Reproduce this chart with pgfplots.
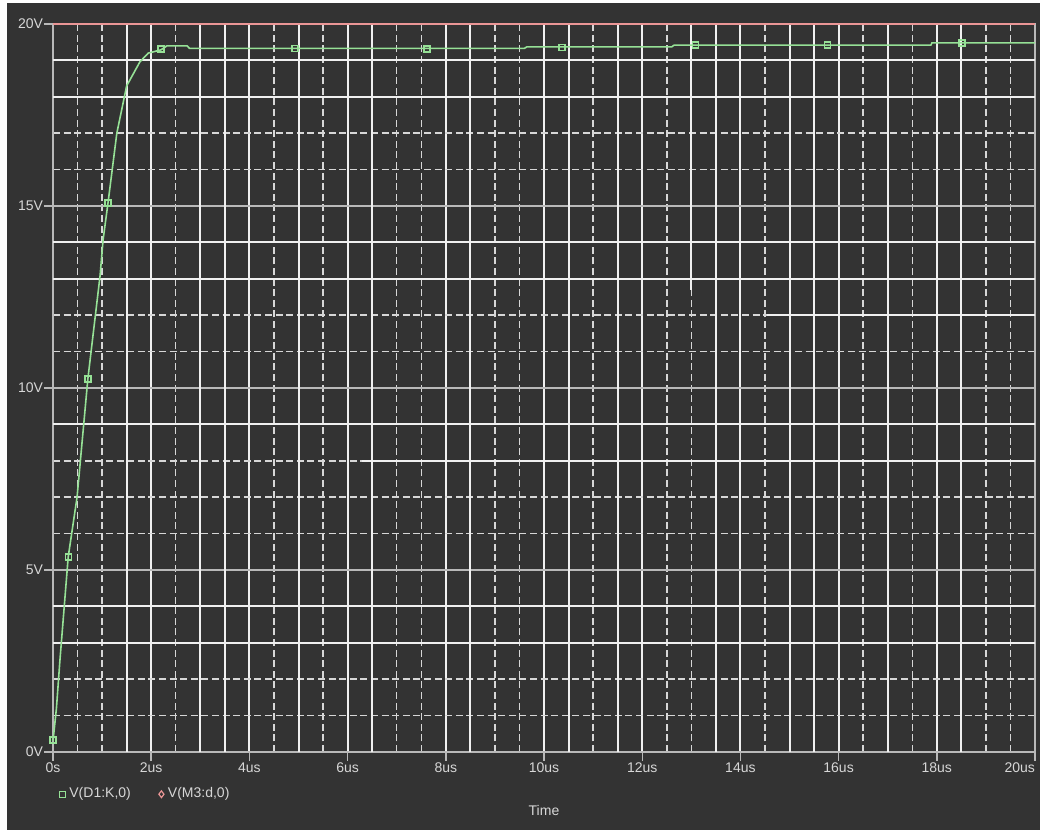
\documentclass[border=0pt]{standalone}
\usepackage{pgfplots}
\pgfplotsset{compat=1.18}
\usepackage{fontspec}
\setmainfont{Liberation Sans}
\definecolor{bg}{RGB}{51,51,51}
\definecolor{txt}{RGB}{215,215,215}
\definecolor{gsolid}{RGB}{240,240,240}
\definecolor{gdash}{RGB}{215,215,215}
\definecolor{gmajor}{RGB}{185,185,185}
\definecolor{trace}{RGB}{150,225,150}
\definecolor{pinkline}{RGB}{235,150,150}
\begin{document}
\begin{tikzpicture}
\fill[white] (0,0) rectangle (520pt,415pt);
\fill[bg] (3.5pt,0) rectangle (520pt,413.5pt);
\useasboundingbox (0,0) rectangle (520pt,415pt);
\begin{axis}[
  at={(26.5pt,39pt)}, anchor=south west,
  scale only axis, width=491pt, height=364pt,
  xmin=0, xmax=20, ymin=0, ymax=20,
  axis line style={gmajor, line width=0.8pt},
  xtick={0,2,...,20},
  xticklabels={0s,2us,4us,6us,8us,10us,12us,14us,16us,18us,\makebox[0pt][r]{20us}},
  ytick={0,5,...,20},
  yticklabels={0V,5V,10V,15V,20V},
  tick align=outside,
  major tick length=4.5pt,
  minor tick length=0pt,
  tick style={gmajor, line width=0.7pt},
  ticklabel style={font=\fontsize{7}{8}\selectfont, text=txt},
  yticklabel style={xshift=3pt},
  xticklabel style={yshift=2.5pt},
  xtick pos=bottom, ytick pos=left,
  grid=both,
  major x grid style={gsolid, line width=1pt},
  major y grid style={gmajor, line width=0.7pt},
  minor grid style={gdash, line width=0.75pt, dash pattern=on 3.5pt off 1.8pt},
  minor xtick={0.5,1,2.5,4.5,5.5,7,7.5,9,9.5,11,12.5,13,14.5,16.5,17.5,19,19.5},
  minor ytick={1,2,6,7,8,11,12,16,17},
  extra x ticks={1.5,3,3.5,5,6.5,8.5,10.5,11.5,13.5,15,15.5,17,18.5},
  extra x tick labels={},
  extra x tick style={grid=major, major tick length=0pt, major x grid style={gsolid, line width=1pt}},
  extra y ticks={3,4,9,13,14,18,19},
  extra y tick labels={},
  extra y tick style={grid=major, major tick length=0pt, major y grid style={gsolid, line width=1pt}},
  xlabel={Time},
  xlabel style={font=\fontsize{7}{8}\selectfont, text=txt, at={(0.5,-0.08)}, anchor=center},
  legend style={at={(0.0,-0.058)}, anchor=west, draw=none, fill=none,
    font=\fontsize{7}{8}\selectfont, text=txt, legend columns=2,
    /tikz/every even column/.append style={column sep=12pt}},
  legend cell align=left,
  clip=false,
]
% partial solid grid segments
\addplot[forget plot, gsolid, line width=1pt] coordinates {(14.55,12) (20,12)};
\addplot[forget plot, gsolid, line width=1pt] coordinates {(6.3,8) (20,8)};
\addplot[forget plot, gsolid, line width=1pt] coordinates {(13,20) (13,12.7)};
% V(M3:d,0)
\addplot[forget plot, pinkline, line width=1pt] coordinates {(0,20) (20,20)};
% V(D1:K,0)
\addplot[forget plot, trace, line width=0.8pt] coordinates {
(0,0.3) (0.07,1.2) (0.14,2.5) (0.31,5.36) (0.49,7.0) (0.71,10.25) (0.96,13.1)
(1.02,14.07) (1.12,15.08) (1.3,17.0) (1.5,18.3) (1.77,18.96) (1.94,19.2)
(2.2,19.29) (2.32,19.4) (2.73,19.4) (2.78,19.33) (9.6,19.33) (9.65,19.37)
(12.6,19.37) (12.65,19.42) (17.88,19.42) (17.9,19.48) (20,19.48)};
\addplot[forget plot, only marks, mark=square, mark size=1.5pt, trace, line width=0.7pt] coordinates {
(0,0.33) (0.31,5.36) (0.71,10.25) (1.12,15.08) (2.2,19.31) (4.93,19.33)
(7.62,19.31) (10.37,19.36) (13.08,19.42) (15.78,19.42) (18.51,19.48)};
\addlegendimage{only marks, mark=square, mark size=1.5pt, trace, line width=0.7pt}
\addlegendentry{V(D1:K,0)}
\addlegendimage{only marks, mark=diamond, mark size=1.7pt, pinkline, line width=0.6pt}
\addlegendentry{V(M3:d,0)}
\end{axis}
\end{tikzpicture}
\end{document}
